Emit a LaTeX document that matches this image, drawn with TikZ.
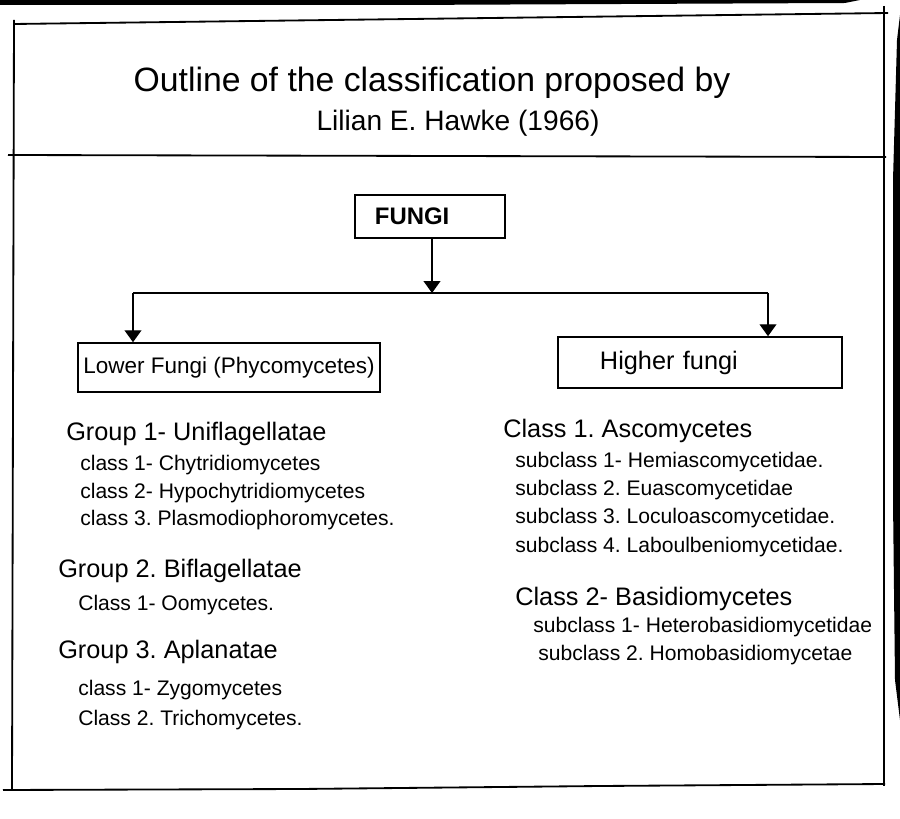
\documentclass[tikz,border=0pt]{standalone}
\usepackage{fontspec}
\setmainfont{Liberation Sans}
\usetikzlibrary{arrows.meta}
\frenchspacing

\begin{document}
\begin{tikzpicture}[
x=0.025cm, y=-0.025cm,
frame/.style={line width=1.3pt},
box/.style={draw, line width=1.1pt, inner sep=0pt},
arr/.style={-{Triangle[length=8.5pt, width=12pt]}, line width=1pt},
head/.style={anchor=base west, inner sep=0pt, font=\fontsize{18}{20}\selectfont},
item/.style={anchor=base west, inner sep=0pt, font=\fontsize{15}{17}\selectfont}
]
\useasboundingbox (0,0) rectangle (900,819);

% page edges of the photo
\fill (0,0) -- (860,0) -- (845,3) -- (400,5) -- (0,5) -- cycle;
\fill (900,15) -- (897,40) -- (893,180) -- (893,500) -- (895,680) -- (900,720) -- cycle;

% frame
\draw[frame] (14,24) -- (888,13);
\draw[frame] (14,20) -- (12,789);
\draw[frame] (884,6) -- (884,786);
\draw[frame] (8,155) -- (886,157);
\draw[frame] (3,790) -- (300,789) -- (600,786) -- (885,784);

% heading
\node[anchor=base, font=\fontsize{24}{28}\selectfont] (title) at (432,92) {Outline of the classification proposed by};
\node[anchor=base, font=\fontsize{20}{24}\selectfont] (author) at (458,131) {Lilian E. Hawke (1966)};

% tree
\node[box, minimum width=3.75cm, minimum height=1.075cm, inner xsep=0.5cm, text width=2.75cm, align=left, font=\bfseries\fontsize{17}{19}\selectfont] (fungi) at (430,216.5) {FUNGI};
\node[box, minimum width=7.55cm, minimum height=1.225cm, font=\fontsize{16}{18}\selectfont] (lower) at (229,367.5) {Lower Fungi (Phycomycetes)};
\node[box, minimum width=7.1cm, minimum height=1.275cm, inner xsep=1.05cm, text width=5cm, align=left, font=\fontsize{18}{20}\selectfont] (higher) at (700,362.5) {Higher fungi};

\coordinate (fork) at (432,293);
\coordinate (forkl) at (133,293);
\coordinate (forkr) at (768,293);
\draw[arr] (fungi.south -| fork) -- (fork);
\draw[line width=1pt] (forkl) -- (forkr);
\draw[arr] (forkl) -- (forkl |- lower.north);
\draw[arr] (forkr) -- (forkr |- higher.north);

% lower fungi
\node[head] (g1) at (66,440) {Group 1- Uniflagellatae};
\node[item] (g1c1) at (80,470) {class 1- Chytridiomycetes};
\node[item] (g1c2) at (80,498) {class 2- Hypochytridiomycetes};
\node[item] (g1c3) at (80,525) {class 3. Plasmodiophoromycetes.};
\node[head] (g2) at (58,577) {Group 2. Biflagellatae};
\node[item] (g2c1) at (78,610) {Class 1- Oomycetes.};
\node[head] (g3) at (58,658) {Group 3. Aplanatae};
\node[item] (g3c1) at (78,695) {class 1- Zygomycetes};
\node[item] (g3c2) at (78,725) {Class 2. Trichomycetes.};

% higher fungi
\node[head] (c1) at (503,437) {Class 1. Ascomycetes};
\node[item] (c1s1) at (515,467) {subclass 1- Hemiascomycetidae.};
\node[item] (c1s2) at (515,495) {subclass 2. Euascomycetidae};
\node[item] (c1s3) at (515,523) {subclass 3. Loculoascomycetidae.};
\node[item] (c1s4) at (515,552) {subclass 4. Laboulbeniomycetidae.};
\node[head] (c2) at (515,605) {Class 2- Basidiomycetes};
\node[item] (c2s1) at (533,632) {subclass 1- Heterobasidiomycetidae};
\node[item] (c2s2) at (538,660) {subclass 2. Homobasidiomycetae};
\end{tikzpicture}
\end{document}
